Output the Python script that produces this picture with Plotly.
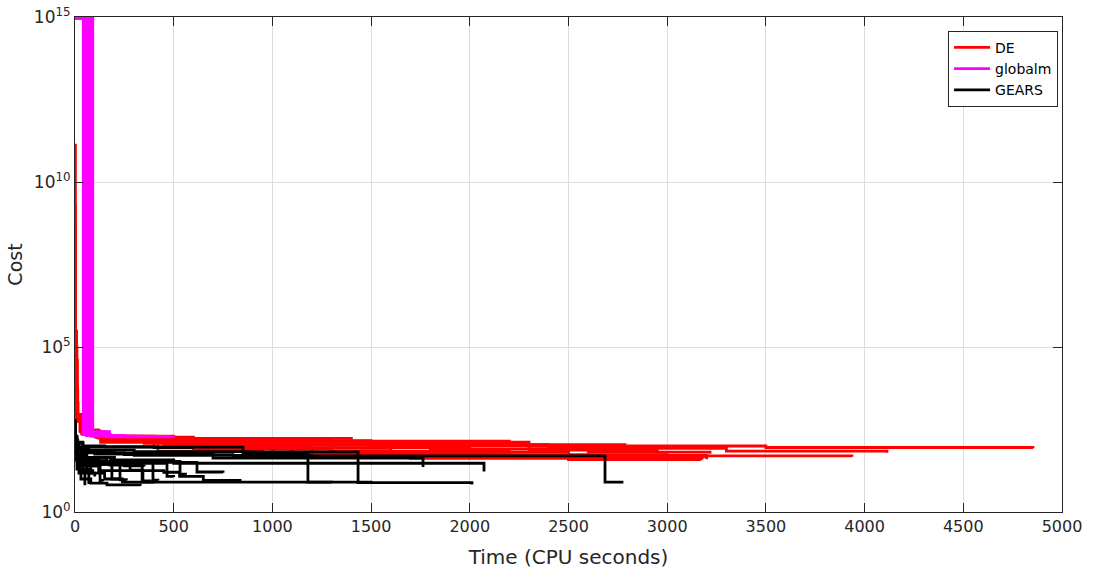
import plotly.graph_objects as go

# ---------------- data (time in CPU seconds, cost) ----------------
DE_TIME = [
    [0, 2, 8, 30, 120, 400, 1100, 2300, 3500, 4853],
    [0, 2, 10, 25, 100, 500, 1300, 2400, 3300, 4113],
    [0, 3, 12, 35, 140, 450, 1000, 2000, 3000, 3936],
    [0, 2, 9, 30, 110, 380, 900, 1800, 2600, 3217],
    [0, 2, 11, 40, 160, 520, 1200, 2100, 3181],
    [0, 3, 14, 45, 130, 420, 950, 1700, 2500, 3170],
    [0, 2, 10, 30, 120, 500, 1400, 2200, 2786],
    [0, 3, 12, 50, 150, 600, 1500, 2300, 2950],
    [0, 2, 8, 28, 100, 350, 800, 1600, 2500, 3100],
    [0, 2, 15, 50, 170, 600, 1300, 2100, 2650],
    [0, 3, 10, 35, 130, 450, 1000, 1900, 2400],
    [0, 2, 9, 40, 140, 500, 1100, 1800, 2200],
    [0, 3, 12, 30, 110, 400, 900, 1500, 2000],
    [0, 2, 10, 45, 160, 550, 1200, 1800],
    [0, 2, 13, 38, 125, 420, 1000, 1500],
    [0, 2, 8, 35, 150, 480, 1250],
    [0, 2, 9, 35, 130, 450, 1100, 2000, 3190],
    [0, 3, 11, 40, 150, 500, 1300, 2200, 3200],
    [0, 2, 10, 30, 120, 400, 1000, 1900, 2800, 3175],
]
DE_COST = [
    [1.3e11, 3e5, 900, 300, 200, 160, 130, 100, 90, 86],
    [2e9, 1e5, 800, 280, 190, 150, 110, 85, 70, 62],
    [5e8, 4e4, 750, 260, 185, 110, 65, 55, 50, 47],
    [2e7, 1e4, 850, 290, 180, 140, 105, 80, 65, 58],
    [1e7, 6e3, 700, 250, 170, 90, 55, 45, 42],
    [3e6, 5e3, 650, 240, 130, 70, 50, 42, 39, 37],
    [1.5e6, 8e3, 880, 300, 200, 170, 140, 110, 100],
    [8e5, 5e3, 700, 270, 185, 145, 110, 75, 62],
    [2e5, 3e3, 800, 290, 195, 120, 85, 65, 52, 48],
    [1.2e5, 2e3, 600, 250, 150, 80, 60, 50, 45],
    [8e4, 2e3, 750, 280, 185, 150, 125, 100, 90],
    [5e4, 1.5e3, 680, 260, 140, 90, 65, 55, 50],
    [3e4, 1.2e3, 720, 290, 190, 140, 105, 90, 80],
    [2e4, 1e3, 640, 250, 170, 130, 110, 95],
    [1e4, 900, 620, 270, 180, 145, 120, 110],
    [6e3, 850, 580, 240, 175, 150, 135],
    [4e3, 800, 560, 230, 160, 100, 60, 48, 44],
    [9e4, 2e3, 700, 260, 170, 110, 70, 52, 40],
    [3e5, 4e3, 800, 280, 175, 95, 62, 50, 43, 38],
]

GLOBALM_TIME = [
    [0, 90, 175, 497],
    [0, 85, 150, 480],
    [0, 80, 300],
    [0, 75, 200],
    [0, 70, 160, 400],
    [0, 64, 120],
    [0, 58, 250],
    [0, 52, 140, 350],
    [0, 46, 100],
    [0, 42, 180],
]
GLOBALM_COST = [
    [9e14, 270, 190, 180],
    [9e14, 220, 195, 185],
    [9e14, 200, 190],
    [9e14, 210, 200],
    [9e14, 230, 195, 188],
    [9e14, 240, 215],
    [9e14, 205, 195],
    [9e14, 260, 200, 192],
    [9e14, 250, 230],
    [9e14, 220, 205],
]

GEARS_TIME = [
    [0, 2, 15, 60, 250, 800, 2685, 2771],
    [0, 3, 18, 70, 200, 699, 1763],
    [0, 2, 12, 50, 180, 500, 2072],
    [0, 3, 20, 80, 150, 240, 1500],
    [0, 2, 10, 40, 851, 1180, 1300],
    [0, 2, 14, 60, 300, 900, 1434, 2011],
    [0, 3, 15, 60, 200, 618, 750],
    [0, 2, 10, 40, 177, 279, 344, 400],
    [0, 2, 10, 30, 80, 162, 330],
    [0, 2, 10, 40, 120, 450, 530, 650, 836],
    [0, 2, 8, 30, 127, 140],
    [0, 3, 12, 50, 187, 220],
    [0, 2, 10, 35, 228, 260],
    [0, 2, 9, 40, 120, 340, 380],
    [0, 3, 15, 60, 395, 420],
    [0, 2, 12, 45, 160, 466, 500],
    [0, 2, 8, 25, 90, 532, 560],
    [0, 1, 5, 20, 60, 100],
    [0, 1, 6, 25, 70],
    [0, 2, 8, 20, 50],
    [0, 1, 4, 15, 40, 90],
    [0, 2, 10, 30, 80, 250, 350],
    [0, 2, 10, 40, 150, 400, 600],
    [0, 2, 7, 30, 100, 300, 1200],
]
GEARS_COST = [
    [350, 120, 80, 62, 55, 50, 8, 7.3],
    [300, 110, 80, 66, 61, 43, 23],
    [250, 90, 60, 45, 38, 30, 17],
    [200, 60, 30, 15, 10, 8, 7],
    [500, 200, 130, 93, 61, 8, 7.6],
    [420, 150, 95, 75, 68, 66, 7.8, 6.8],
    [300, 100, 60, 45, 32, 16.3, 15.5],
    [200, 70, 40, 30, 26.6, 18.7, 8.1, 7.8],
    [150, 50, 20, 10, 7.5, 6.6, 6.1],
    [180, 60, 35, 25, 18, 16, 12, 9, 8.5],
    [250, 80, 40, 25, 9, 8.5],
    [220, 70, 45, 30, 10, 9.5],
    [300, 90, 50, 35, 9.5, 9],
    [260, 100, 55, 40, 28, 8.8, 8.5],
    [190, 70, 45, 33, 9.2, 9],
    [330, 110, 60, 42, 30, 12, 11.5],
    [280, 95, 55, 40, 34, 14, 13.5],
    [500, 150, 60, 30, 15, 12],
    [400, 120, 50, 20, 7],
    [350, 100, 40, 15, 6.5],
    [600, 200, 80, 35, 18, 15],
    [220, 75, 45, 35, 28, 25, 24],
    [450, 180, 120, 100, 95, 90, 88],
    [380, 140, 90, 70, 57, 52, 50],
]

SERIES_NAMES = ["DE", "globalm", "GEARS"]
SERIES_COLORS = ["#ff0000", "#ff00ff", "#000000"]

X_TICKS = [0, 500, 1000, 1500, 2000, 2500, 3000, 3500, 4000, 4500, 5000]
Y_TICK_VALUES = [1e0, 1e5, 1e10, 1e15]
Y_TICK_TEXT = ["10<sup>0</sup>", "10<sup>5</sup>", "10<sup>10</sup>", "10<sup>15</sup>"]


def join_runs(times, costs):
    xs, ys = [], []
    for t, c in zip(times, costs):
        xs += list(t) + [None]
        ys += list(c) + [None]
    return xs, ys


fig = go.Figure()
for name, color, (times, costs) in zip(
    SERIES_NAMES, SERIES_COLORS,
    [(DE_TIME, DE_COST), (GLOBALM_TIME, GLOBALM_COST), (GEARS_TIME, GEARS_COST)],
):
    xs, ys = join_runs(times, costs)
    fig.add_trace(go.Scatter(
        x=xs, y=ys, mode="lines", name=name,
        line=dict(color=color, width=2.8, shape="hv"),
        connectgaps=False,
    ))

AX = "#262626"
GRID = "#dedede"
FONT = "DejaVu Sans"

fig.update_layout(
    width=1094, height=572,
    margin=dict(l=75, r=32, t=17, b=60, autoexpand=False),
    paper_bgcolor="white", plot_bgcolor="white",
    font=dict(family=FONT, size=15, color=AX),
    showlegend=True,
    legend=dict(
        x=0.996, y=0.972, xanchor="right", yanchor="top",
        bgcolor="white", bordercolor=AX, borderwidth=1,
        font=dict(family=FONT, size=14, color="#000000"),
        tracegroupgap=0, itemwidth=36,
    ),
)
fig.update_xaxes(
    range=[0, 5000], tickvals=X_TICKS, ticktext=[str(v) for v in X_TICKS],
    showgrid=True, gridcolor=GRID, gridwidth=1,
    showline=True, linecolor=AX, linewidth=1, mirror="ticks",
    ticks="inside", ticklen=9, tickcolor=AX, tickwidth=1,
    zeroline=False, automargin=False,
    tickfont=dict(family=FONT, size=16, color=AX),
    title=dict(text="Time (CPU seconds)", font=dict(family=FONT, size=20, color=AX), standoff=14),
)
fig.update_yaxes(
    type="log", range=[0, 15], tickvals=Y_TICK_VALUES, ticktext=Y_TICK_TEXT,
    showgrid=True, gridcolor=GRID, gridwidth=1,
    showline=True, linecolor=AX, linewidth=1, mirror="ticks",
    ticks="inside", ticklen=9, tickcolor=AX, tickwidth=1,
    zeroline=False, automargin=False,
    tickfont=dict(family=FONT, size=17, color=AX),
    title=dict(text="Cost", font=dict(family=FONT, size=19, color=AX), standoff=6),
)

fig.write_html("out.html")
